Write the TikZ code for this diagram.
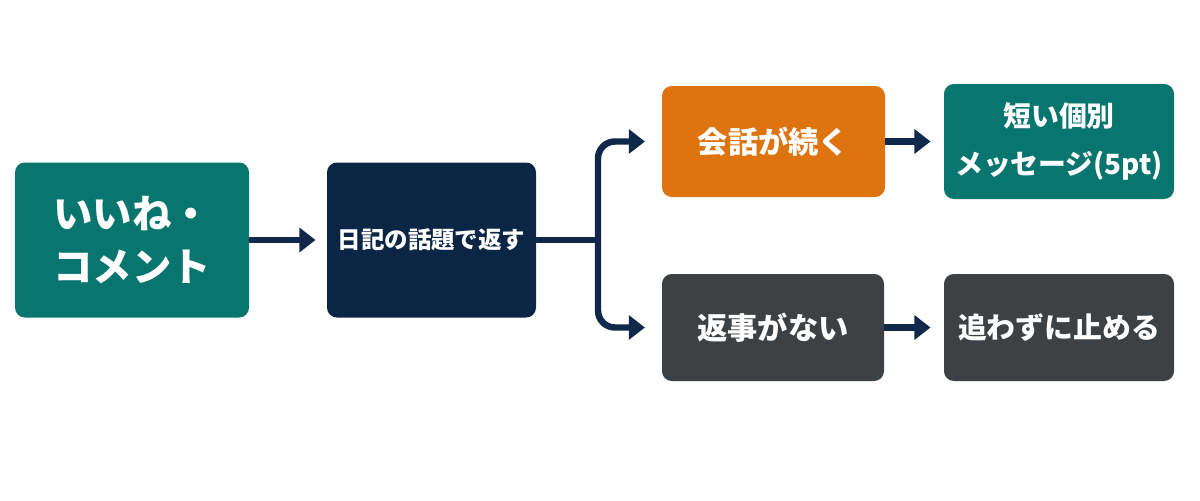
\documentclass[tikz,border=0pt]{standalone}
\usepackage{fontspec}
\setmainfont{Noto Sans CJK JP}
\usetikzlibrary{arrows.meta}
\definecolor{tealbox}{HTML}{08756F}
\definecolor{navybox}{HTML}{0B2645}
\definecolor{orangebox}{HTML}{DE7410}
\definecolor{graybox}{HTML}{3D4143}
\definecolor{linkcol}{HTML}{10294A}
\tikzset{
  box/.style={rounded corners=7pt, inner sep=0pt, text=white, align=center,
    font=\bfseries\fontsize{21.5}{29}\selectfont},
  conn/.style={draw=linkcol, line width=4.6pt,
    -{Triangle[length=11.5pt,width=17pt]}, shorten >=0.33cm},
  plain/.style={draw=linkcol, line width=4.6pt}
}
\begin{document}
\begin{tikzpicture}[x=0.025cm, y=-0.025cm]
  \path[fill=white] (0,0) rectangle (1200,500);
  % input and first reply
  \node[box, fill=tealbox, minimum width=234*0.025cm, minimum height=155*0.025cm,
        font=\bfseries\fontsize{28}{38}\selectfont] (likes) at (132,240) {いいね・\\コメント};
  \node[box, fill=navybox, minimum width=209*0.025cm, minimum height=155*0.025cm,
        font=\bfseries\fontsize{16.7}{22}\selectfont] (reply) at (431.5,240) {日記の話題で返す};
  % upper branch
  \node[box, fill=orangebox, minimum width=223*0.025cm, minimum height=111*0.025cm] (talk) at (773.5,141.5) {会話が続く};
  \node[box, fill=tealbox, minimum width=230*0.025cm, minimum height=115*0.025cm,
        font=\bfseries\fontsize{19.8}{34}\selectfont] (msg) at (1059,141.5) {短い個別\\メッセージ(5pt)};
  % lower branch
  \node[box, fill=graybox, minimum width=222*0.025cm, minimum height=107*0.025cm] (noreply) at (773,327.5) {返事がない};
  \node[box, fill=graybox, minimum width=230*0.025cm, minimum height=107*0.025cm,
        font=\bfseries\fontsize{20.5}{29}\selectfont] (stop) at (1059,327.5) {追わずに止める};
  % connectors
  \coordinate (split) at (598,240);
  \draw[conn, shorten >=0.28cm] (likes) -- (reply);
  \draw[plain] (reply.east) -- ([xshift=1.2pt]split);
  \draw[conn, rounded corners=12pt, shorten >=0.42cm] (split) |- (talk.west);
  \draw[conn, rounded corners=12pt, shorten >=0.42cm] (split) |- (noreply.west);
  \draw[conn] (talk) -- (msg);
  \draw[conn] (noreply) -- (stop);
\end{tikzpicture}
\end{document}
